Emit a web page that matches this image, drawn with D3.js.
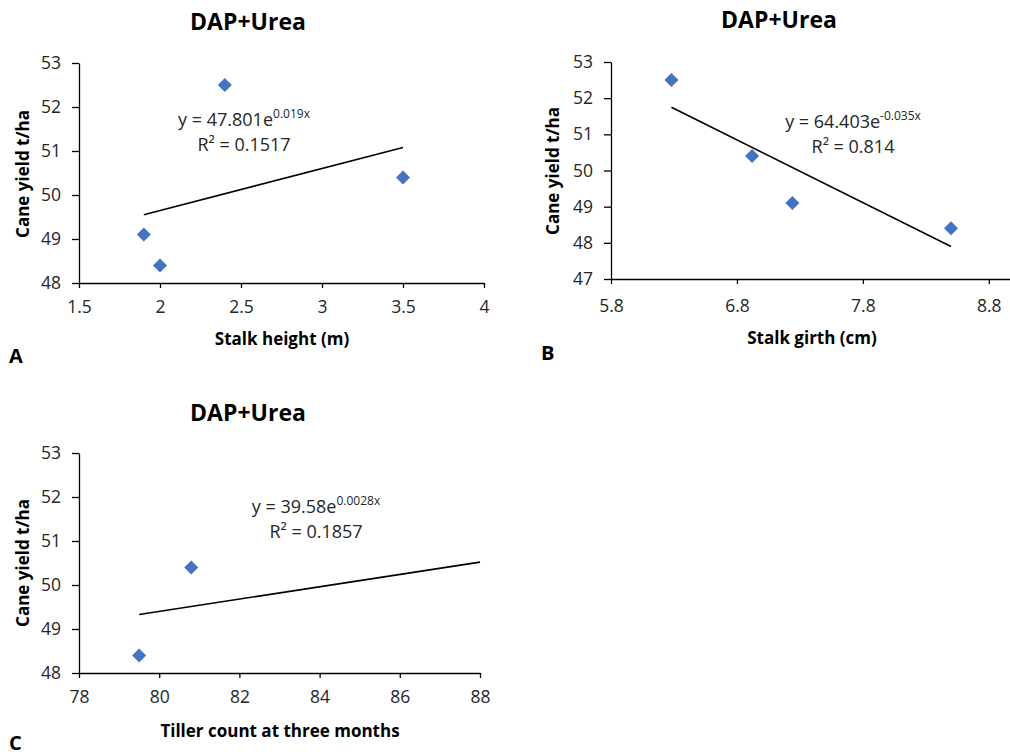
<!DOCTYPE html>
<html>
<head>
<meta charset="utf-8">
<script src="https://cdn.jsdelivr.net/npm/d3@7"></script>
<style>
  body { margin: 0; background: #fff; }
  svg { font-family: "Open Sans", Lato, sans-serif; }
  .tick text { fill: #262626; font-size: 17.5px; font-family: "Open Sans", sans-serif; }
  .domain, .tick line { stroke: #000; stroke-width: 1.3px; }
</style>
</head>
<body>
<div id="chart"></div>
<script>
// data
var heightX = [1.9, 2.0, 2.4, 3.5];
var heightY = [49.1, 48.4, 52.5, 50.4];
var heightTrend = [[1.9, 49.55], [3.5, 51.08]];

var girthX = [6.28, 6.92, 7.24, 8.5];
var girthY = [52.5, 50.4, 49.1, 48.4];
var girthTrend = [[6.28, 51.75], [8.5, 47.9]];

var tillerX = [79.5, 80.8];
var tillerY = [48.4, 50.4];
var tillerTrend = [[79.5, 49.33], [88, 50.52]];

var heightTicks = [1.5, 2, 2.5, 3, 3.5, 4];
var girthTicks = [5.8, 6.8, 7.8, 8.8];
var tillerTicks = [78, 80, 82, 84, 86, 88];

var svg = d3.select("#chart").append("svg")
    .attr("width", 1010)
    .attr("height", 755);

// one scatter panel with its trend line and equation
function drawPanel(p) {
    var x = d3.scaleLinear().domain(p.xDomain).range(p.xRange);
    var y = d3.scaleLinear().domain(p.yDomain).range(p.yRange);

    svg.append("g")
        .attr("transform", "translate(0," + p.yRange[0] + ")")
        .call(d3.axisBottom(x).tickValues(p.xTicks).tickSize(5).tickPadding(p.xPad).tickSizeOuter(0))
        .call(function(g) { g.selectAll(".tick text").text(function(d) { return d; }); });

    svg.append("g")
        .attr("transform", "translate(" + p.xRange[0] + ",0)")
        .call(d3.axisLeft(y).ticks(p.yDomain[1] - p.yDomain[0]).tickSize(7).tickPadding(11).tickSizeOuter(0));

    var pts = p.xs.map(function(v, i) { return [v, p.ys[i]]; });

    svg.append("path")
        .datum(p.trend)
        .attr("fill", "none")
        .attr("stroke", "#000")
        .attr("stroke-width", 1.6)
        .attr("d", d3.line().x(function(d) { return x(d[0]); }).y(function(d) { return y(d[1]); }));

    svg.append("g").selectAll("path")
        .data(pts)
        .enter()
        .append("path")
        .attr("transform", function(d) { return "translate(" + x(d[0]) + "," + y(d[1]) + ")"; })
        .attr("d", "M0,-7L7,0L0,7L-7,0Z")
        .attr("fill", "#4472C4");

    // titles and labels
    svg.append("text")
        .attr("x", p.title[0]).attr("y", p.title[1])
        .attr("text-anchor", "middle")
        .style("font-size", "23px").style("font-weight", "bold")
        .text("DAP+Urea");

    svg.append("text")
        .attr("transform", "translate(" + p.yLab[0] + "," + p.yLab[1] + ") rotate(-90)")
        .attr("text-anchor", "middle")
        .attr("dy", "0.35em")
        .style("font-size", "17px").style("font-weight", "bold")
        .text("Cane yield t/ha");

    svg.append("text")
        .attr("x", p.xLab[0]).attr("y", p.xLab[1])
        .attr("text-anchor", "middle")
        .style("font-size", "17px").style("font-weight", "bold")
        .text(p.xName);

    svg.append("text")
        .attr("x", p.letter[0]).attr("y", p.letter[1])
        .style("font-size", "20px").style("font-weight", "bold")
        .text(p.letterText);

    var eq = svg.append("text")
        .attr("x", p.eq[0]).attr("y", p.eq[1])
        .attr("text-anchor", "middle")
        .style("font-size", "18px").style("fill", "#262626");
    eq.append("tspan").text(p.eqMain);
    eq.append("tspan").attr("dy", -8).style("font-size", "12px").text(p.eqExp);

    svg.append("text")
        .attr("x", p.eq[0]).attr("y", p.eq[1] + 25)
        .attr("text-anchor", "middle")
        .style("font-size", "18px").style("fill", "#262626")
        .text(p.r2);
}

drawPanel({
    xs: heightX, ys: heightY, trend: heightTrend,
    xDomain: [1.5, 4], xRange: [79, 484], xTicks: heightTicks, xPad: 13,
    yDomain: [48, 53], yRange: [283, 63],
    title: [248, 30], yLab: [23, 174], xLab: [282, 345],
    letter: [9, 363], letterText: "A",
    xName: "Stalk height (m)",
    eq: [244, 126], eqMain: "y = 47.801e", eqExp: "0.019x", r2: "R² = 0.1517"
});

drawPanel({
    xs: girthX, ys: girthY, trend: girthTrend,
    xDomain: [5.8, 9.0], xRange: [611, 1014], xTicks: girthTicks, xPad: 16,
    yDomain: [47, 53], yRange: [279, 62],
    title: [779, 28], yLab: [553, 171], xLab: [812, 344],
    letter: [541, 360], letterText: "B",
    xName: "Stalk girth (cm)",
    eq: [853, 128], eqMain: "y = 64.403e", eqExp: "-0.035x", r2: "R² = 0.814"
});

drawPanel({
    xs: tillerX, ys: tillerY, trend: tillerTrend,
    xDomain: [78, 88], xRange: [79, 480], xTicks: tillerTicks, xPad: 13,
    yDomain: [48, 53], yRange: [673, 453],
    title: [248, 421], yLab: [23, 563], xLab: [280, 737],
    letter: [9, 750], letterText: "C",
    xName: "Tiller count at three months",
    eq: [316, 513], eqMain: "y = 39.58e", eqExp: "0.0028x", r2: "R² = 0.1857"
});
</script>
</body>
</html>
